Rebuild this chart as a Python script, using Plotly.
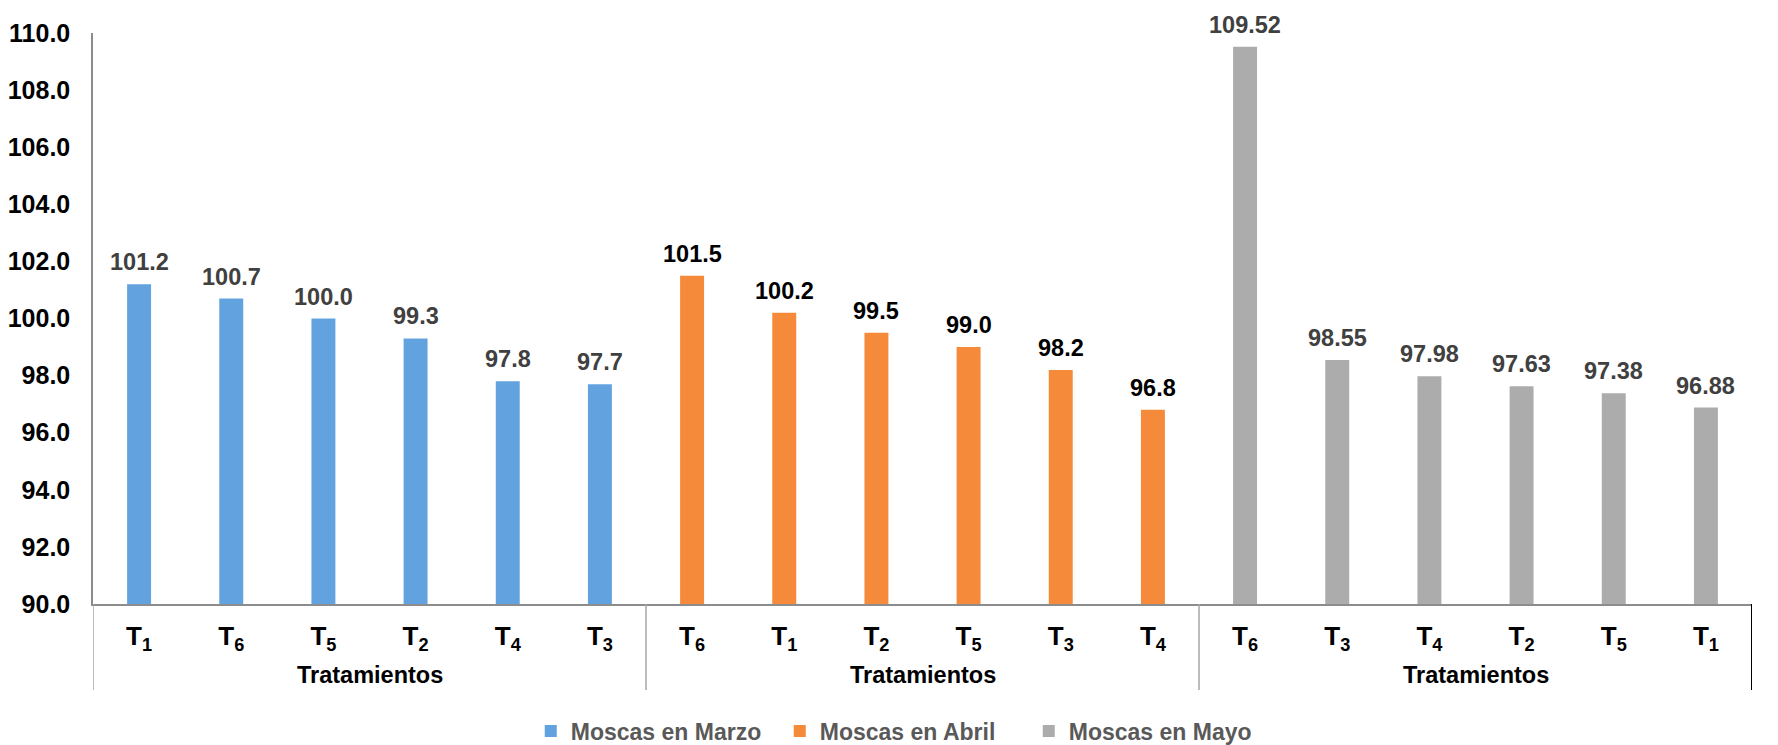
import plotly.graph_objects as go

# Treatment order within each month (sorted by mean catch)
marzo_trat = ["T1", "T6", "T5", "T2", "T4", "T3"]
abril_trat = ["T6", "T1", "T2", "T5", "T3", "T4"]
mayo_trat = ["T6", "T3", "T4", "T2", "T5", "T1"]

marzo_vals = [101.2, 100.7, 100.0, 99.3, 97.8, 97.7]
abril_vals = [101.5, 100.2, 99.5, 99.0, 98.2, 96.8]
mayo_vals = [109.52, 98.55, 97.98, 97.63, 97.38, 96.88]

series_names = ["Moscas en Marzo", "Moscas en Abril", "Moscas en Mayo"]
group_title = "Tratamientos"
y_ticks = [90, 92, 94, 96, 98, 100, 102, 104, 106, 108, 110]

FONT = "Liberation Sans, Arial, sans-serif"
colors = ["#62a3df", "#f68a3b", "#acacac"]
label_colors = ["#404040", "#000000", "#404040"]
label_fmt = ["{:.1f}", "{:.1f}", "{:.2f}"]

groups = [
    (marzo_trat, marzo_vals),
    (abril_trat, abril_vals),
    (mayo_trat, mayo_vals),
]

W, H = 1778, 745
ML, MR, MT, MB = 93, 26, 33, 141
plot_h = H - MT - MB


def px_to_paper_y(py):
    return (H - MB - py) / plot_h


fig = go.Figure()
annotations = []
tickvals, ticktext = [], []
pos = 0
group_edges = []
for gi, (trats, vals) in enumerate(groups):
    xs = list(range(pos, pos + len(vals)))
    fig.add_trace(go.Bar(
        x=xs, y=vals, name=series_names[gi],
        marker=dict(color=colors[gi], line=dict(width=0)),
        width=0.26, cliponaxis=False,
    ))
    for x, v, t in zip(xs, vals, trats):
        tickvals.append(x)
        ticktext.append("T<sub>%s</sub>" % t[1:])
        annotations.append(dict(
            x=x, y=v, xref="x", yref="y", yanchor="bottom",
            text=label_fmt[gi].format(v), showarrow=False, yshift=7,
            font=dict(family=FONT, size=23.5, color=label_colors[gi], weight="bold"),
        ))
    annotations.append(dict(
        x=(xs[0] + xs[-1]) / 2, y=px_to_paper_y(675), xref="x", yref="paper",
        yanchor="middle", text=group_title, showarrow=False,
        font=dict(family=FONT, size=23.5, color="#000000", weight="bold"),
    ))
    group_edges.append(xs[0] - 0.5)
    pos += len(vals)
group_edges.append(pos - 0.5)

shapes = []
y_low = px_to_paper_y(690)
for i, xe in enumerate(group_edges):
    last = i == len(group_edges) - 1
    shapes.append(dict(
        type="line", xref="x", yref="paper", x0=xe, x1=xe, y0=0, y1=y_low,
        line=dict(color="#000000" if last else "#a6a6a6", width=2 if last else 1.5),
    ))

fig.update_layout(
    width=W, height=H,
    margin=dict(l=ML, r=MR, t=MT, b=MB, autoexpand=False),
    plot_bgcolor="white", paper_bgcolor="white",
    barmode="overlay",
    showlegend=True,
    legend=dict(
        orientation="h", x=0.489, xanchor="center",
        y=px_to_paper_y(731), yanchor="middle",
        font=dict(family=FONT, size=23, color="#595959", weight="bold"),
        itemwidth=30, tracegroupgap=0,
        entrywidth=204, entrywidthmode="pixels",
    ),
    xaxis=dict(
        range=[-0.5, pos - 0.5], tickvals=tickvals, ticktext=ticktext,
        showgrid=False, zeroline=False, showline=True,
        linecolor="#8c8c8c", linewidth=2, ticks="",
        ticklabelstandoff=8,
        tickfont=dict(family=FONT, size=26, color="#000000", weight="bold"),
    ),
    yaxis=dict(
        range=[90, 110], tickvals=y_ticks, tickformat=".1f",
        showgrid=False, zeroline=False, showline=True,
        linecolor="#8c8c8c", linewidth=1.5, ticks="",
        ticklabelstandoff=16,
        tickfont=dict(family=FONT, size=25, color="#000000", weight="bold"),
    ),
    annotations=annotations,
    shapes=shapes,
)

fig.write_html("out.html")
